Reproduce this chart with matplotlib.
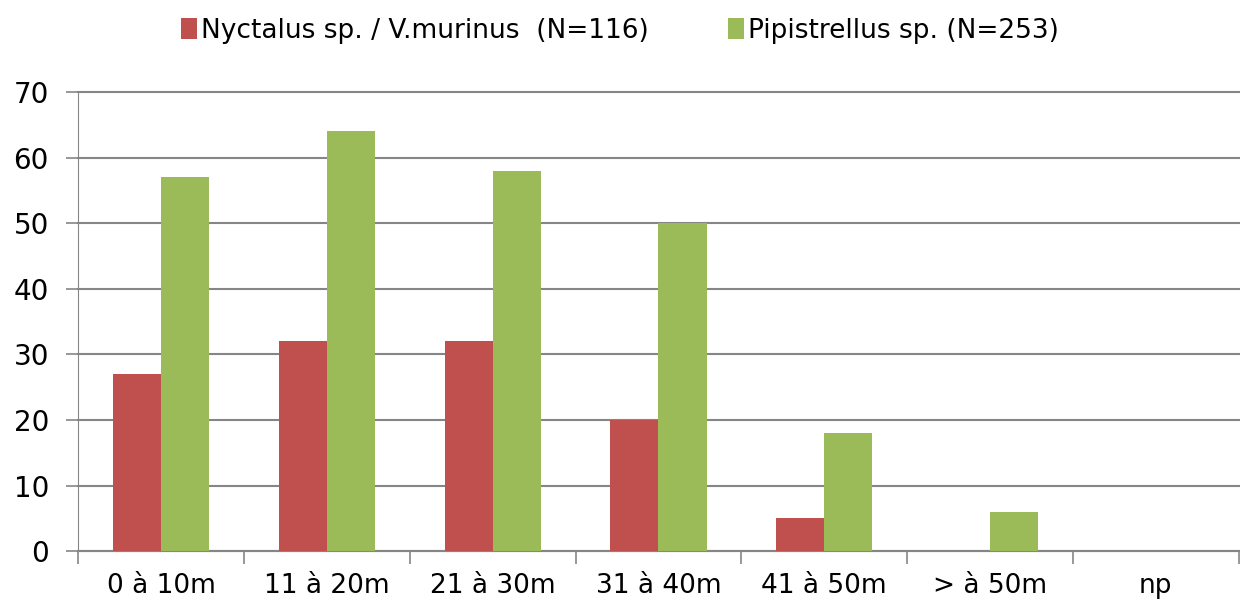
import numpy as np
import matplotlib.pyplot as plt

categories = ["0 à 10m", "11 à 20m", "21 à 30m", "31 à 40m", "41 à 50m", "> à 50m", "np"]
nyctalus = [27, 32, 32, 20, 5, 0, 0]
pipistrellus = [57, 64, 58, 50, 18, 6, 0]
series_names = ["Nyctalus sp. / V.murinus  (N=116)", "Pipistrellus sp. (N=253)"]

plt.rcParams['font.family'] = ['DejaVu Sans']

fig = plt.figure(figsize=(12.4, 6.05), dpi=100)
ax = fig.add_axes([0.063, 0.089, 0.936, 0.759])

x = np.arange(len(categories))
w = 0.29
ax.bar(x - w / 2, nyctalus, width=w, color="#C0504D", label=series_names[0], zorder=3)
ax.bar(x + w / 2, pipistrellus, width=w, color="#9BBB59", label=series_names[1], zorder=3)

ax.set_xlim(-0.5, len(categories) - 0.5)
ax.set_ylim(0, 70)
ax.set_yticks(range(0, 71, 10))
ax.yaxis.grid(True, color="#868686", linewidth=1.5, zorder=0)
for gl in ax.get_ygridlines():
    gl.set_clip_on(False)
ax.tick_params(axis="y", length=9, width=1.2, color="#868686", labelsize=20, pad=12)

ax.set_xticks(x)
ax.set_xticklabels(categories, fontsize=19)
ax.set_xticks(np.arange(-0.5, len(categories)), minor=True)
ax.tick_params(axis="x", which="major", length=0, pad=16)
ax.tick_params(axis="x", which="minor", length=9, width=1.2, color="#868686")

for s in ["top", "right"]:
    ax.spines[s].set_visible(False)
ax.spines["left"].set_color("#868686")
ax.spines["bottom"].set_color("#868686")
ax.spines["bottom"].set_linewidth(1.5)

fig.legend(loc="upper center", bbox_to_anchor=(0.5, 1.01), ncol=2, frameon=False,
           fontsize=19, handlelength=0.6, handleheight=0.8, handletextpad=0.15,
           columnspacing=3.0)

fig.savefig("out.png", dpi=100)
